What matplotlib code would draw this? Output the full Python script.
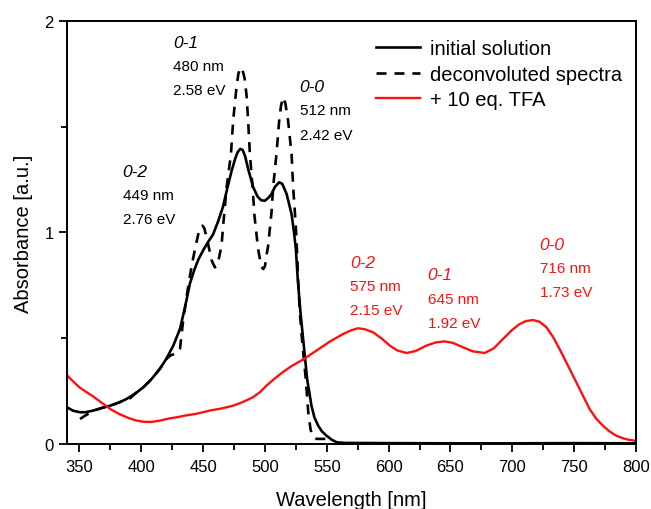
import numpy as np
import matplotlib.pyplot as plt
from matplotlib.ticker import MultipleLocator

plt.rcParams['font.family'] = ['Liberation Sans', 'DejaVu Sans']

# initial solution (solid black)
init_wl = [340, 345, 350.5, 355, 361.3, 368, 374.7, 382, 388.2, 395, 401.7, 408, 415, 420,
           425.9, 431.3, 435.5, 439.4, 443, 446, 450, 454, 458, 462, 466, 470, 473, 476,
           478, 480, 482, 484, 486.4, 490.5, 494, 497, 500, 503, 505.3, 508, 511.5, 514,
           517.5, 521.5, 523.5, 525, 526.5, 528.7, 531.4, 534.1, 537.6, 540, 543, 546,
           549.8, 554, 558, 565, 600, 650, 700, 750, 800]
init_abs = [0.173, 0.157, 0.150, 0.150, 0.158, 0.170, 0.181, 0.196, 0.213, 0.238, 0.268, 0.305,
            0.355, 0.400, 0.465, 0.544, 0.650, 0.760, 0.825, 0.870, 0.915, 0.955, 0.990, 1.050,
            1.120, 1.220, 1.290, 1.350, 1.380, 1.395, 1.390, 1.360, 1.300, 1.214, 1.170, 1.152,
            1.150, 1.165, 1.182, 1.215, 1.237, 1.230, 1.182, 1.087, 1.000, 0.920, 0.780, 0.623,
            0.465, 0.307, 0.181, 0.125, 0.087, 0.060, 0.039, 0.020, 0.008, 0.005, 0.004, 0.003,
            0.003, 0.004, 0.003]

# deconvoluted spectra (dashed)
dec_wl = [350.5, 353, 357, 362, 368, 375, 382, 388.2, 391, 395, 401.7, 408, 415, 420, 424,
          427, 429, 431.3, 434, 438, 441, 443.4, 446, 448, 449.5, 451, 454, 457, 459.5, 461,
          462.5, 464.9, 466.3, 467.6, 469, 470.3, 472.5, 474.3, 477, 478.5, 480.3, 482, 483.5,
          485.1, 486.4, 487.8, 490, 491.5, 494.5, 497, 498.6, 500, 501.5, 502.6, 504, 505.3,
          506.6, 509.3, 511.5, 513, 514.7, 516.5, 518.7, 521.5, 522.8, 524.2, 525.2, 526.2,
          527, 528.2, 530.4, 533, 535, 536.8, 538.5, 541.7, 549.8]
dec_abs = [0.118, 0.128, 0.142, 0.158, 0.170, 0.181, 0.196, 0.213, 0.216, 0.238, 0.268, 0.305,
           0.355, 0.400, 0.420, 0.425, 0.430, 0.450, 0.590, 0.748, 0.850, 0.920, 0.990, 1.025,
           1.032, 1.020, 0.946, 0.867, 0.835, 0.840, 0.870, 0.938, 1.040, 1.120, 1.214, 1.270,
           1.371, 1.529, 1.687, 1.750, 1.780, 1.765, 1.730, 1.650, 1.529, 1.371, 1.214, 1.080,
           0.920, 0.840, 0.827, 0.840, 0.900, 0.938, 1.020, 1.095, 1.214, 1.371, 1.529, 1.600,
           1.639, 1.610, 1.529, 1.371, 1.214, 1.095, 1.000, 0.870, 0.750, 0.623, 0.465, 0.307,
           0.150, 0.071, 0.035, 0.024, 0.024]

# + 10 eq. TFA (red)
tfa_wl = [340, 345, 350, 355, 361, 368, 375, 382, 390, 396, 401.7, 408, 415, 422, 428.6,
          436, 444, 455.5, 465, 474.3, 482, 490, 496, 501.3, 508, 515, 522, 531, 540, 552.4,
          563.2, 570, 575.3, 581, 587.4, 594, 601, 607, 614.4, 622, 630.5, 638, 645.3, 652,
          660.1, 668, 677.6, 685, 692.4, 700, 705.9, 711, 716.7, 722, 727.5, 733, 738.2, 746.3,
          754.4, 762.5, 768, 773.2, 778, 784, 790, 794, 798.8, 800]
tfa_abs = [0.325, 0.295, 0.268, 0.248, 0.225, 0.195, 0.165, 0.142, 0.122, 0.111, 0.105, 0.104,
           0.110, 0.120, 0.126, 0.135, 0.142, 0.158, 0.168, 0.181, 0.198, 0.220, 0.245, 0.276,
           0.310, 0.342, 0.370, 0.400, 0.435, 0.484, 0.520, 0.538, 0.547, 0.542, 0.528, 0.500,
           0.465, 0.442, 0.430, 0.440, 0.465, 0.480, 0.485, 0.478, 0.457, 0.438, 0.430, 0.452,
           0.496, 0.540, 0.567, 0.581, 0.586, 0.578, 0.552, 0.505, 0.449, 0.355, 0.260, 0.165,
           0.118, 0.087, 0.062, 0.039, 0.026, 0.020, 0.016, 0.015]

# peak labels: (x, y, band, nm, eV, colour)
peaks = [
    (385, 1.29, '0-2', '449 nm', '2.76 eV', 'black'),
    (425.5, 1.90, '0-1', '480 nm', '2.58 eV', 'black'),
    (528, 1.69, '0-0', '512 nm', '2.42 eV', 'black'),
    (569, 0.86, '0-2', '575 nm', '2.15 eV', '#ff1010'),
    (631.5, 0.80, '0-1', '645 nm', '1.92 eV', '#ff1010'),
    (722, 0.945, '0-0', '716 nm', '1.73 eV', '#ff1010'),
]

fig = plt.figure(figsize=(6.51, 5.1), dpi=100)
ax = fig.add_axes([0.103, 0.1275, 0.874, 0.8295])

ax.plot(init_wl, init_abs, color='black', lw=1.9, label='initial solution')
ax.plot(dec_wl, dec_abs, color='black', lw=1.9, ls=(0, (3.8, 3)), label='deconvoluted spectra')
ax.plot(tfa_wl, tfa_abs, color='#ff1010', lw=1.7, label='+ 10 eq. TFA')

for x, y, band, nm, ev, c in peaks:
    ax.text(x, y, band, color=c, fontsize=12.5, style='italic', va='center', ha='left')
    ax.text(x, y - 0.113, nm, color=c, fontsize=11, va='center', ha='left')
    ax.text(x, y - 0.228, ev, color=c, fontsize=11, va='center', ha='left')

ax.set_xlim(340, 800)
ax.set_ylim(0, 2)
ax.xaxis.set_major_locator(MultipleLocator(50))
ax.xaxis.set_minor_locator(MultipleLocator(25))
ax.yaxis.set_major_locator(MultipleLocator(1))
ax.yaxis.set_minor_locator(MultipleLocator(0.5))
ax.tick_params(which='both', direction='out', width=1.3, labelsize=12, top=False, right=False)
ax.tick_params(which='major', length=6)
ax.tick_params(which='minor', length=4)
ax.tick_params(axis='x', pad=5)
for s in ax.spines.values():
    s.set_linewidth(1.4)

ax.set_xlabel('Wavelength [nm]', fontsize=14.5, labelpad=11)
ax.set_ylabel('Absorbance [a.u.]', fontsize=14.5, labelpad=8)

ax.legend(loc='upper left', bbox_to_anchor=(0.543, 0.957), frameon=False, fontsize=14.5,
          handlelength=2.2, handletextpad=0.5, labelspacing=0.32, borderpad=0, borderaxespad=0)

plt.savefig('out.png', dpi=100)
